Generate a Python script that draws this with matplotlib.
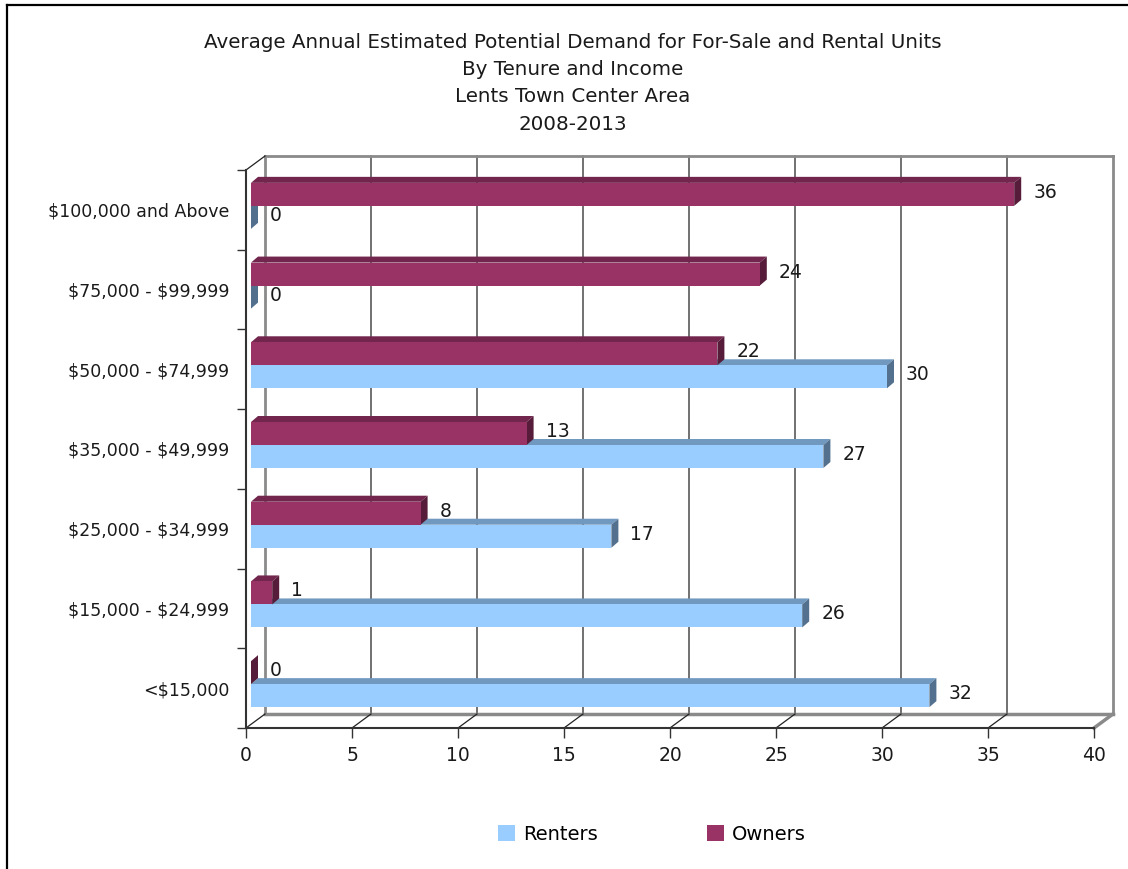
import matplotlib
matplotlib.use("Agg")
import matplotlib.pyplot as plt
from matplotlib.patches import Polygon, Patch

# Average annual demand by income band (units per year)
income_bands = ["<$15,000", "$15,000 - $24,999", "$25,000 - $34,999",
                "$35,000 - $49,999", "$50,000 - $74,999", "$75,000 - $99,999",
                "$100,000 and Above"]
renters = [32, 26, 17, 27, 30, 0, 0]
owners = [0, 1, 8, 13, 22, 24, 36]

title = ("Average Annual Estimated Potential Demand for For-Sale and Rental Units\n"
         "By Tenure and Income\nLents Town Center Area\n2008-2013")

renter_faces = ("#99CCFF", "#7199C0", "#53708F")   # front, top, side
owner_faces = ("#993366", "#72264D", "#561C3A")

plt.rcParams["font.family"] = ["DejaVu Sans"]
plt.rcParams["text.parse_math"] = False   # keep the dollar signs literal
TXT = "#1a1a1a"

W, H, DPI = 1128, 869, 100
fig = plt.figure(figsize=(W / DPI, H / DPI), dpi=DPI)

# plot area in pixels (front plane)
left_px, right_px, top_px, bot_px = 246, 1094, 170, 728
ax = fig.add_axes([left_px / W, 1 - bot_px / H,
                   (right_px - left_px) / W, (bot_px - top_px) / H])
xmax = 40
ymin, ymax = -0.5, len(income_bands) - 0.5
ax.set_xlim(0, xmax)
ax.set_ylim(ymin, ymax)

sx = (right_px - left_px) / xmax          # px per x unit
sy = (bot_px - top_px) / (ymax - ymin)    # px per y unit

# depth offsets (px -> data units)
wall_dx, wall_dy = 19 / sx, 14 / sy       # back wall
plane_dx, plane_dy = 5 / sx, 4 / sy       # plane the bars sit on
bar_dx, bar_dy = 7 / sx, 6 / sy           # bar thickness
bar_h = 23 / sy

grey = "#8a8a8a"
# back wall gridlines and frame
for v in range(0, xmax + 1, 5):
    edge = v in (0, xmax)
    ax.plot([v + wall_dx] * 2, [ymin + wall_dy, ymax + wall_dy],
            color=grey if edge else "#4a4a4a", lw=2 if edge else 1.1,
            clip_on=False, zorder=1)
ax.plot([wall_dx, xmax + wall_dx], [ymax + wall_dy] * 2, color=grey, lw=2,
        clip_on=False, zorder=1)
ax.plot([wall_dx, xmax + wall_dx], [ymin + wall_dy] * 2, color=grey, lw=2.5,
        clip_on=False, zorder=1)
ax.plot([xmax, xmax + wall_dx], [ymin, ymin + wall_dy], color=grey, lw=2.5,
        clip_on=False, zorder=1)

# floor diagonals from front ticks to the back wall
for v in range(0, xmax, 5):
    ax.plot([v, v + wall_dx], [ymin, ymin + wall_dy], color="#222222",
            lw=0.9, clip_on=False, zorder=1)
ax.plot([0, wall_dx], [ymax, ymax + wall_dy], color="#222222", lw=0.9,
        clip_on=False, zorder=1)


def bar3d(y0, value, faces):
    front, top, side = faces
    x0 = plane_dx
    b = y0 + plane_dy
    t = b + bar_h
    x1 = x0 + value
    ax.add_patch(Polygon([(x0, t), (x1, t), (x1 + bar_dx, t + bar_dy),
                          (x0 + bar_dx, t + bar_dy)], closed=True,
                         facecolor=top, edgecolor="none", zorder=3))
    ax.add_patch(Polygon([(x1, b), (x1 + bar_dx, b + bar_dy),
                          (x1 + bar_dx, t + bar_dy), (x1, t)], closed=True,
                         facecolor=side, edgecolor="none", zorder=3))
    ax.barh(b, value, height=bar_h, left=x0, align="edge", color=front,
            edgecolor="none", zorder=3)
    ax.text(x1 + bar_dx + 12 / sx, b + bar_h / 2 + 2 / sy, f"{value:g}",
            ha="left", va="center", fontsize=13.5, color=TXT, zorder=5)


for i, (r, o) in enumerate(zip(renters, owners)):
    bar3d(i - bar_h, r, renter_faces)
    bar3d(i, o, owner_faces)

# axes, ticks and labels
for s in ("top", "right"):
    ax.spines[s].set_visible(False)
for s in ("left", "bottom"):
    ax.spines[s].set_color("#333333")
    ax.spines[s].set_linewidth(1.5)
ax.set_xticks(range(0, xmax + 1, 5))
ax.tick_params(axis="x", length=7, width=1, color="#333333", pad=6,
               labelsize=13.5, labelcolor=TXT)
ax.set_yticks(range(len(income_bands)))
ax.set_yticklabels(income_bands)
ax.tick_params(axis="y", which="major", length=0, pad=12, labelsize=12.5,
               labelcolor=TXT)
ax.set_yticks([k - 0.5 for k in range(len(income_bands) + 1)], minor=True)
ax.tick_params(axis="y", which="minor", length=6.5, width=1, color="#333333")

fig.text(573 / W, 1 - 33 / H, title, ha="center", va="top", fontsize=14.3,
         color=TXT, linespacing=1.55)

handles = [Patch(facecolor=renter_faces[0], label="Renters"),
           Patch(facecolor=owner_faces[0], label="Owners")]
fig.legend(handles=handles, loc="center", bbox_to_anchor=(652 / W, 1 - 834 / H),
           ncol=2, frameon=False, fontsize=14, handlelength=0.9,
           handleheight=0.9, handletextpad=0.4, columnspacing=5.6)

# outer border
fig.add_artist(plt.Line2D([7 / W, 7 / W], [0, 1 - 5 / H], color="black",
                          lw=1.6, transform=fig.transFigure))
fig.add_artist(plt.Line2D([7 / W, 1], [1 - 5 / H, 1 - 5 / H], color="black",
                          lw=1.6, transform=fig.transFigure))

fig.savefig("out.png", dpi=DPI, facecolor="white")
